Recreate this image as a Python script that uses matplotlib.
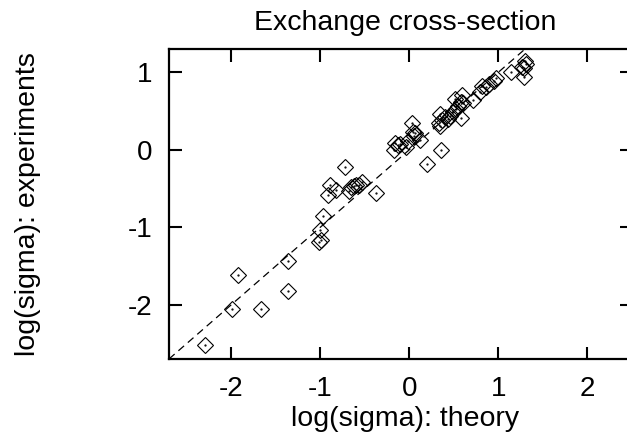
import matplotlib
matplotlib.use('Agg')
import matplotlib.pyplot as plt

# -------------- data -------------------------------------------------------
theory = [-2.30, -1.99, -1.93, -1.67, -1.36, -1.36, -1.01, -0.99, -1.00, -0.97,
          -0.91, -0.89, -0.82, -0.72, -0.68, -0.66, -0.62, -0.60, -0.57, -0.53,
          -0.38, -0.17, -0.16, -0.13, -0.10, -0.04, -0.02, 0.03, 0.04, 0.06,
          0.05, 0.12, 0.20, 0.35, 0.33, 0.34, 0.34, 0.37, 0.40, 0.43,
          0.46, 0.49, 0.51, 0.52, 0.55, 0.58, 0.59, 0.58, 0.60, 0.71,
          0.79, 0.82, 0.86, 0.90, 0.95, 0.97, 1.14, 1.27, 1.30, 1.29,
          1.29, 1.31]
experiment = [-2.52, -2.05, -1.62, -2.05, -1.44, -1.82, -1.19, -1.16, -1.03, -0.85,
              -0.58, -0.46, -0.52, -0.22, -0.53, -0.48, -0.47, -0.46, -0.45, -0.42,
              -0.56, -0.01, 0.09, 0.06, 0.07, 0.03, 0.11, 0.34, 0.23, 0.21,
              0.18, 0.12, -0.18, 0.00, 0.34, 0.46, 0.31, 0.38, 0.42, 0.40,
              0.44, 0.49, 0.66, 0.53, 0.57, 0.62, 0.70, 0.41, 0.60, 0.64,
              0.74, 0.82, 0.81, 0.85, 0.89, 0.92, 1.00, 1.07, 1.14, 1.05,
              0.94, 1.11]
diag = [-2.7, 1.3]
xticks = [-2, -1, 0, 1, 2]
yticks = [-2, -1, 0, 1]
# ---------------------------------------------------------------------------

plt.rcParams['font.family'] = ['Liberation Sans', 'DejaVu Sans']
plt.rcParams['axes.unicode_minus'] = False

fig = plt.figure(figsize=(6.27, 4.38), dpi=100)
ax = fig.add_axes([0.2695, 0.1804, 0.7384, 0.7078])

# y = x reference line
ax.plot(diag, diag, color='black', lw=0.9, dashes=(6, 4))

# open diamonds with a dot in the middle
ax.plot(theory, experiment, linestyle='none', marker='D', ms=8.5,
        mfc='none', mec='black', mew=0.8)
ax.plot(theory, experiment, linestyle='none', marker='.', ms=1.2, color='black')

ax.set_xlim(-2.7, 2.5)
ax.set_ylim(-2.7, 1.3)
ax.set_xticks(xticks)
ax.set_yticks(yticks)
ax.tick_params(direction='in', length=9, width=1.5, labelsize=20,
               top=True, right=True, pad=12)
for s in ax.spines.values():
    s.set_linewidth(1.6)

ax.set_title('Exchange cross-section', fontsize=20.5, pad=14, x=0.51)
ax.set_xlabel('log(sigma): theory', fontsize=20.5, labelpad=3, x=0.51)
ax.set_ylabel('log(sigma): experiments', fontsize=20.5, labelpad=62)

fig.savefig('out.png', dpi=100)
